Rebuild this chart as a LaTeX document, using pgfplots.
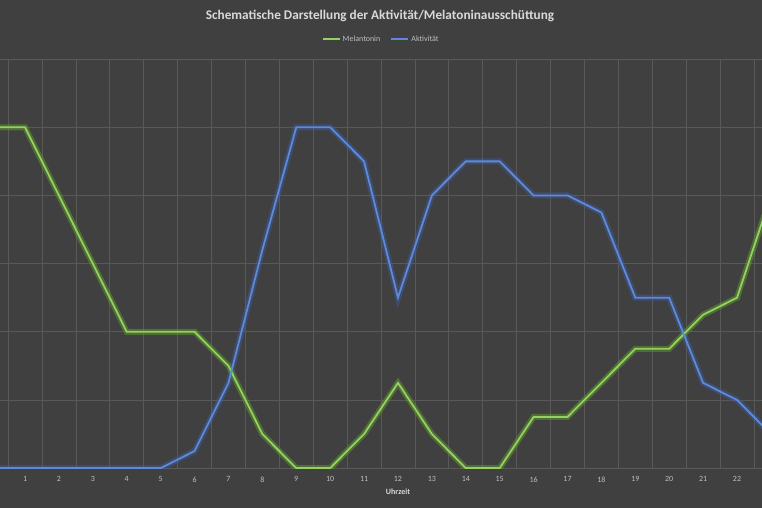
\documentclass[border=0pt]{standalone}
\usepackage{pgfplots}
\usepackage{pgfplotstable}
\pgfplotsset{compat=1.18}
\usepackage{fontspec}
\setmainfont{Carlito}
\definecolor{bg}{HTML}{404040}
\definecolor{gridc}{HTML}{595959}
\definecolor{mgreen}{HTML}{94D062}
\definecolor{mgreenglow}{HTML}{5E9A2C}
\definecolor{ablue}{HTML}{5F8AD8}
\definecolor{abglow}{HTML}{3D5EA6}
\definecolor{titlec}{HTML}{D9D9D9}
\definecolor{tickc}{HTML}{BFBFBF}

\pgfplotstableread{
x y
0 5
1 5
2 4
3 3
4 2
5 2
6 2
7 1.5
8 0.5
9 0
10 0
11 0.5
12 1.25
13 0.5
14 0
15 0
16 0.75
17 0.75
18 1.25
19 1.75
20 1.75
21 2.25
22 2.5
23 4
}\melatonin

\pgfplotstableread{
x y
0 0
1 0
2 0
3 0
4 0
5 0
6 0.25
7 1.25
8 3.2
9 5
10 5
11 4.5
12 2.5
13 4
14 4.5
15 4.5
16 4
17 4
18 3.75
19 2.5
20 2.5
21 1.25
22 1
23 0.5
}\aktivitaet

\begin{document}
\begin{tikzpicture}[x=1bp,y=1bp]
\fill[bg] (0,0) rectangle (762,508);
\useasboundingbox (0,0) rectangle (762,508);
\begin{axis}[
  name=main,
  at={(0,58.5)}, anchor=south west,
  scale only axis, width=762bp, height=409bp,
  xmin=0.262, xmax=22.737, ymin=0, ymax=6,
  axis line style={draw=none},
  xtick={1,...,22},
  minor xtick={-0.5,0.5,...,23.5},
  xminorgrids=true,
  ytick={0,...,6},
  yticklabels={},
  ymajorgrids=true,
  major grid style={draw=gridc, line width=0.7bp},
  minor grid style={draw=gridc, line width=0.7bp},
  tick style={draw=none},
  /pgf/number format/assume math mode=true,
  xticklabel style={font=\fontsize{8}{9}\selectfont, text=tickc, yshift=-5bp},
  legend style={at={(0.5,1)}, anchor=south, yshift=12bp, draw=none, fill=none,
    font=\fontsize{8}{9}\selectfont, legend columns=2,
    nodes={text=tickc},
    /tikz/every even column/.append style={column sep=8bp}},
  legend cell align=left,
]
\addplot[abglow, line width=6bp, opacity=0.45, forget plot] table {\aktivitaet};
\addplot[mgreenglow, line width=6bp, opacity=0.5, forget plot] table {\melatonin};
\addplot[draw=mgreen, line width=1.8bp,
  legend image code/.code={\draw[draw=mgreen, line width=2.2bp] (0bp,0.5bp) -- (17bp,0.5bp);}] table {\melatonin};
\addplot[draw=ablue, line width=1.8bp,
  legend image code/.code={\draw[draw=ablue, line width=2.2bp] (0bp,0.5bp) -- (17bp,0.5bp);}] table {\aktivitaet};
\legend{Melantonin, Aktivität}
\end{axis}
\node[text=titlec, font=\fontsize{8}{9}\selectfont\bfseries] at (398,16) {Uhrzeit};
\node[text=titlec, font=\fontsize{13.3}{15}\selectfont\bfseries] at (380,492) {Schematische Darstellung der Aktivität/Melatoninausschüttung};
\end{tikzpicture}
\end{document}
